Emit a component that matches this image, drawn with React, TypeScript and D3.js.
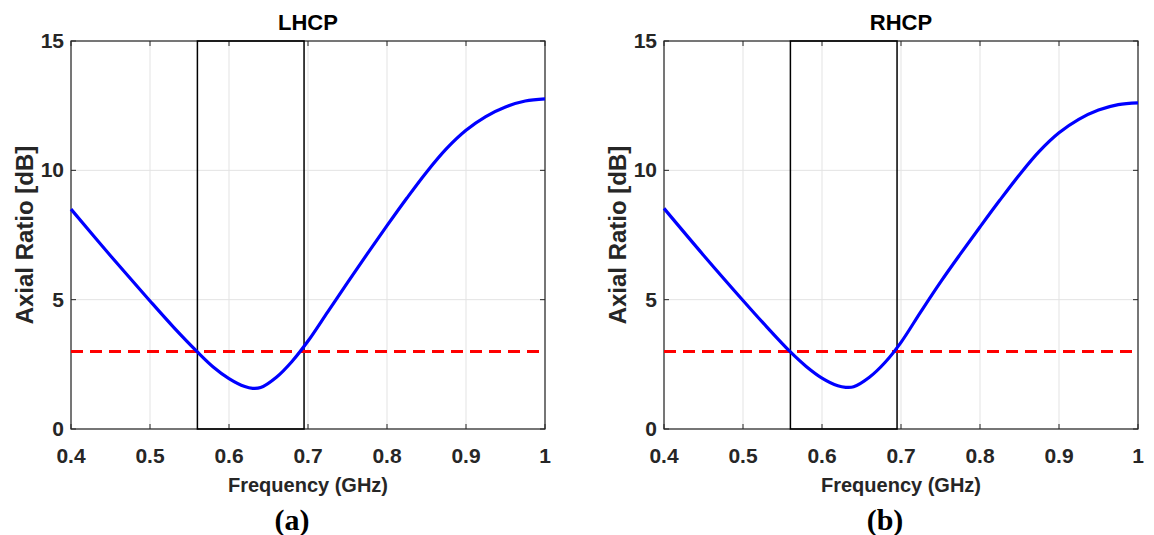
import React from "react";
import * as d3 from "d3";

const frequency = [0.4, 0.45, 0.5, 0.53, 0.56, 0.58, 0.6, 0.62, 0.63, 0.64, 0.66, 0.68, 0.7, 0.725, 0.75, 0.775, 0.8, 0.825, 0.85, 0.875, 0.9, 0.925, 0.95, 0.975, 1.0];
const lhcpAR = [8.5, 6.7, 4.95, 3.93, 2.98, 2.4, 1.95, 1.64, 1.57, 1.6, 2.0, 2.62, 3.4, 4.53, 5.66, 6.77, 7.86, 8.92, 9.93, 10.83, 11.55, 12.08, 12.45, 12.68, 12.76];
const rhcpAR = [8.53, 6.72, 4.97, 3.95, 2.98, 2.42, 1.97, 1.67, 1.61, 1.63, 2.0, 2.58, 3.35, 4.53, 5.68, 6.76, 7.81, 8.84, 9.83, 10.73, 11.45, 11.97, 12.33, 12.54, 12.61];
const xTicks = [0.4, 0.5, 0.6, 0.7, 0.8, 0.9, 1];
const yTicks = [0, 5, 10, 15];
const threshold = 3;
const bandLHCP = [0.56, 0.695];
const bandRHCP = [0.56, 0.695];

const W = 1154;
const H = 535;
const plotW = 474;
const plotH = 388;
const plotTop = 41;

type PanelProps = { left: number; title: string; values: number[]; band: number[]; caption: string };

function Panel({ left, title, values, band, caption }: PanelProps) {
  const x = d3.scaleLinear().domain([0.4, 1]).range([left, left + plotW]);
  const y = d3.scaleLinear().domain([0, 15]).range([plotTop + plotH, plotTop]);
  const line = d3
    .line<number>()
    .x((_, i) => x(frequency[i]))
    .y((v) => y(v))
    .curve(d3.curveCatmullRom.alpha(0.5));
  const axisColor = "#262626";
  const gridColor = "#e3e3e3";
  const cx = left + plotW / 2;
  const sans = "Liberation Sans, Arial, sans-serif";
  return (
    <g>
      {xTicks.map((t) => (
        <line key={"gx" + t} x1={x(t)} x2={x(t)} y1={y(0)} y2={y(15)} stroke={gridColor} strokeWidth={1} />
      ))}
      {yTicks.map((t) => (
        <line key={"gy" + t} x1={x(0.4)} x2={x(1)} y1={y(t)} y2={y(t)} stroke={gridColor} strokeWidth={1} />
      ))}
      <rect x={x(0.4)} y={y(15)} width={plotW} height={plotH} fill="none" stroke={axisColor} strokeWidth={1.2} />
      {xTicks.map((t) => (
        <g key={"tx" + t}>
          <line x1={x(t)} x2={x(t)} y1={y(0)} y2={y(0) - 5} stroke={axisColor} strokeWidth={1} />
          <line x1={x(t)} x2={x(t)} y1={y(15)} y2={y(15) + 5} stroke={axisColor} strokeWidth={1} />
          <text x={x(t)} y={463} textAnchor="middle" fontFamily={sans} fontWeight="bold" fontSize={21} fill="#262626">
            {String(t)}
          </text>
        </g>
      ))}
      {yTicks.map((t) => (
        <g key={"ty" + t}>
          <line x1={x(0.4)} x2={x(0.4) + 5} y1={y(t)} y2={y(t)} stroke={axisColor} strokeWidth={1} />
          <line x1={x(1)} x2={x(1) - 5} y1={y(t)} y2={y(t)} stroke={axisColor} strokeWidth={1} />
          <text x={x(0.4) - 7} y={y(t) + 7} textAnchor="end" fontFamily={sans} fontWeight="bold" fontSize={21} fill="#262626">
            {String(t)}
          </text>
        </g>
      ))}
      <rect x={x(band[0])} y={y(15)} width={x(band[1]) - x(band[0])} height={plotH} fill="none" stroke="#000" strokeWidth={1.5} />
      <line x1={x(0.4)} x2={x(1)} y1={y(threshold)} y2={y(threshold)} stroke="#ff0000" strokeWidth={3} strokeDasharray="12,7" />
      <path d={line(values) || ""} fill="none" stroke="#0000ff" strokeWidth={3.2} strokeLinejoin="round" />
      <text x={cx} y={30} textAnchor="middle" fontFamily={sans} fontWeight="bold" fontSize={22} fill="#000">
        {title}
      </text>
      <text x={cx} y={492} textAnchor="middle" fontFamily={sans} fontWeight="bold" fontSize={20} fill="#262626">
        Frequency (GHz)
      </text>
      <text transform={`translate(${left - 38},${plotTop + plotH / 2}) rotate(-90)`} textAnchor="middle" fontFamily={sans} fontWeight="bold" fontSize={24} fill="#262626">
        Axial Ratio [dB]
      </text>
      <text x={cx - 16} y={530} textAnchor="middle" fontFamily="Liberation Serif, Times New Roman, serif" fontWeight="bold" fontSize={30} fill="#000">
        {caption}
      </text>
    </g>
  );
}

export default function App() {
  return (
    <svg width={W} height={H} style={{ position: "absolute", left: 0, top: 0, background: "#fff" }}>
      <rect x={0} y={0} width={W} height={H} fill="#fff" />
      <Panel left={71} title="LHCP" values={lhcpAR} band={bandLHCP} caption="(a)" />
      <Panel left={664} title="RHCP" values={rhcpAR} band={bandRHCP} caption="(b)" />
    </svg>
  );
}
